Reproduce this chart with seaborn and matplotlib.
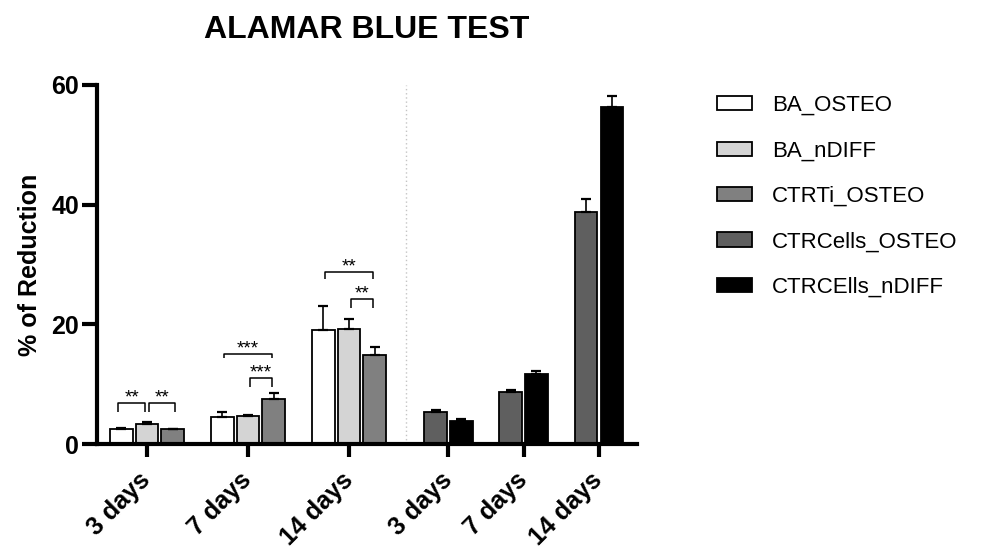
import numpy as np
import pandas as pd
import matplotlib
matplotlib.use("Agg")
import matplotlib.pyplot as plt
from matplotlib.patches import Patch
from matplotlib.transforms import ScaledTranslation
import seaborn as sns

# ---- data -------------------------------------------------------------
days = ["3 days", "7 days", "14 days"]
series = ["BA_OSTEO", "BA_nDIFF", "CTRTi_OSTEO", "CTRCells_OSTEO", "CTRCElls_nDIFF"]
colors = ["#ffffff", "#d4d4d4", "#808080", "#5f5f5f", "#000000"]

ba_osteo = [2.5, 4.5, 19.0]
ba_osteo_sd = [0.25, 0.8, 4.0]
ba_ndiff = [3.4, 4.6, 19.3]
ba_ndiff_sd = [0.25, 0.3, 1.6]
ctrti_osteo = [2.45, 7.6, 14.9]
ctrti_osteo_sd = [0.12, 1.0, 1.3]
ctrcells_osteo = [5.3, 8.7, 38.8]
ctrcells_osteo_sd = [0.3, 0.4, 2.1]
ctrcells_ndiff = [3.85, 11.65, 56.4]
ctrcells_ndiff_sd = [0.4, 0.5, 1.8]

# significance brackets: (series a, series b, day index, label, bracket top, leg drop)
sig_pairs = [
    ("BA_OSTEO", "BA_nDIFF", 0, "**", 6.8, 1.4),
    ("BA_nDIFF", "CTRTi_OSTEO", 0, "**", 6.8, 1.4),
    ("BA_OSTEO", "CTRTi_OSTEO", 1, "***", 15.0, 0.7),
    ("BA_nDIFF", "CTRTi_OSTEO", 1, "***", 11.0, 1.4),
    ("BA_OSTEO", "CTRTi_OSTEO", 2, "**", 28.7, 1.2),
    ("BA_nDIFF", "CTRTi_OSTEO", 2, "**", 24.2, 1.4),
]

values = [ba_osteo, ba_ndiff, ctrti_osteo, ctrcells_osteo, ctrcells_ndiff]
errors = [ba_osteo_sd, ba_ndiff_sd, ctrti_osteo_sd, ctrcells_osteo_sd, ctrcells_ndiff_sd]

# ---- layout of the two bar blocks on a numeric x scale ------------------
left_centers = np.array([0.0, 1.0, 2.0])
right_centers = np.array([2.985, 3.728, 4.475])
pitch = 0.2555
bar_w = 0.225
offsets = {0: -pitch, 1: 0.0, 2: pitch, 3: -pitch / 2, 4: pitch / 2}

rows = []
for si, name in enumerate(series):
    centers = left_centers if si < 3 else right_centers
    for di in range(3):
        rows.append({"x": centers[di] + offsets[si], "value": values[si][di],
                     "err": errors[si][di], "series": name, "day": di})
df = pd.DataFrame(rows)
pos = {(r.series, r.day): r.x for r in df.itertuples()}

# ---- style ------------------------------------------------------------
sns.set_style("ticks")
plt.rcParams["font.family"] = ["Liberation Sans", "DejaVu Sans"]
for key in ("axes.edgecolor", "xtick.color", "ytick.color", "text.color",
            "axes.labelcolor"):
    plt.rcParams[key] = "black"

W, H = 987, 551
fig = plt.figure(figsize=(W / 100, H / 100), dpi=100)
ax = fig.add_axes([97 / W, (H - 444) / H, (637 - 97) / W, (444 - 85) / H])

native = np.min(np.diff(np.unique(df["x"])))
sns.barplot(data=df, x="x", y="value", hue="series", hue_order=series,
            palette=dict(zip(series, colors)), native_scale=True, dodge=False,
            width=bar_w / native, edgecolor="black", linewidth=1.3,
            legend=False, ax=ax, zorder=2)

ax.errorbar(df["x"], df["value"], yerr=[np.zeros(len(df)), df["err"]],
            fmt="none", ecolor="black", elinewidth=1.2, capsize=3.8,
            capthick=1.6, zorder=3)

# separator between the two experiment blocks
ax.axvline(2.56, color="#c4c4c4", lw=1.0, ls=(0, (1, 2)), zorder=1)

# significance brackets
for a, b, d, lab, top, drop in sig_pairs:
    xa = pos[(a, d)] + 0.02
    xb = pos[(b, d)] - 0.02
    if a == "BA_OSTEO" and b == "BA_nDIFF":
        xa, xb = pos[(a, d)] - 0.03, pos[(b, d)] - 0.02
    elif d == 0:
        xa, xb = pos[(a, d)] + 0.02, pos[(b, d)] + 0.02
    ax.plot([xa, xa, xb, xb], [top - drop, top, top, top - drop],
            color="black", lw=1.1, zorder=4, solid_capstyle="butt")
    ax.annotate(lab, ((xa + xb) / 2, top), xytext=(0, 3.5),
                textcoords="offset points", ha="center", va="center",
                fontsize=13.5, zorder=4)

# axes
ax.set_xlim((97 - 147) / 101, (637 - 147) / 101)
ax.set_ylim(0, 60)
ax.set_yticks([0, 20, 40, 60])
ax.set_xticks(np.concatenate([left_centers, right_centers]))
ax.set_xticklabels(days + days, rotation=45, ha="right", va="center",
                   rotation_mode="anchor", fontsize=18, fontweight="bold")
shift = ScaledTranslation(4 / 72, 0, fig.dpi_scale_trans)
for t in ax.get_xticklabels():
    t.set_transform(t.get_transform() + shift)
for t in ax.get_yticklabels():
    t.set_fontsize(18)
    t.set_fontweight("bold")
ax.tick_params(axis="y", length=11, width=3, pad=2)
ax.tick_params(axis="x", length=9.5, width=3, pad=14)
ax.set_xlabel("")
ax.set_ylabel("% of Reduction", fontsize=18, fontweight="bold", labelpad=6.5)
sns.despine(ax=ax)
for s in ("left", "bottom"):
    ax.spines[s].set_linewidth(3)
    ax.spines[s].set_color("black")

fig.text(366.7 / W, 1 - 30 / H, "ALAMAR BLUE TEST", ha="center", va="center",
         fontsize=23, fontweight="bold")

handles = [Patch(facecolor=c, edgecolor="black", linewidth=1.3) for c in colors]
ax.legend(handles, series, loc="upper left",
          bbox_to_anchor=(717 / W, 1 - 95 / H), bbox_transform=fig.transFigure,
          frameon=False, borderpad=0, borderaxespad=0, fontsize=16,
          handlelength=1.58, handleheight=0.6, handletextpad=0.9,
          labelspacing=1.1)

fig.savefig("out.png", dpi=100)
